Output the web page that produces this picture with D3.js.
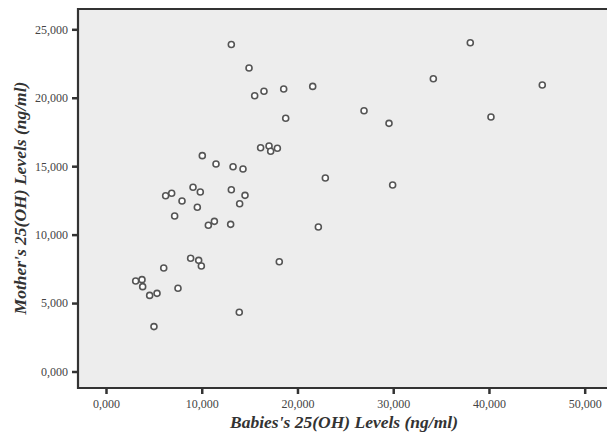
<!DOCTYPE html>
<html>
<head>
<meta charset="utf-8">
<script src="https://cdn.jsdelivr.net/npm/d3@7"></script>
<style>
  body { margin: 0; background: #fff; }
  svg { display: block; }
</style>
</head>
<body>
<svg id="chart"></svg>
<script>
// baby vs mother 25(OH) values
const babies = [13090, 14940, 15530, 16500, 18560, 21590, 18770,
  38050, 34190, 45570, 26950, 29560, 40210, 22910, 29940,
  16150, 17030, 17200, 17900, 10060, 11490, 13270, 14310, 6230, 6860, 9090, 9850, 7940,
  13090, 14520, 13960, 9540, 7170, 10690, 11320, 13020, 22180,
  18100, 6030, 8840, 9680, 9960, 3100, 3760, 3830, 7520, 4560, 5330, 13920, 5010];
const mothers = [23890, 22170, 20150, 20470, 20640, 20830, 18500,
  24020, 21390, 20930, 19050, 18130, 18590, 14140, 13620,
  16350, 16470, 16090, 16310, 15770, 15160, 14960, 14790, 12840, 13020, 13460, 13110, 12460,
  13280, 12870, 12260, 12000, 11360, 10680, 10970, 10750, 10560,
  8020, 7560, 8270, 8120, 7710, 6610, 6710, 6200, 6080, 5560, 5710, 4330, 3280];

const xTicks = [0, 10000, 20000, 30000, 40000, 50000];
const yTicks = [0, 5000, 10000, 15000, 20000, 25000];
const tickLabel = v => d3.format(',')(v / 1000) + ',000';

const W = 607, H = 435;
const frame = { left: 78, top: 9, right: 608, bottom: 388 };

const svg = d3.select('#chart').attr('width', W).attr('height', H);

const x = d3.scaleLinear().domain([0, 50000]).range([106, 584.7]);
const y = d3.scaleLinear().domain([0, 25000]).range([371.5, 29.3]);

// plot background
svg.append('rect')
  .attr('x', frame.left).attr('y', frame.top)
  .attr('width', frame.right - frame.left)
  .attr('height', frame.bottom - frame.top)
  .attr('fill', '#ededed');

// frame lines (no right edge)
svg.append('path')
  .attr('d', `M${frame.right},${frame.top}H${frame.left}V${frame.bottom}H${frame.right}`)
  .attr('fill', 'none')
  .attr('stroke', '#333')
  .attr('stroke-width', 2.2);

// axes
const xAxis = d3.axisBottom(x).tickValues(xTicks).tickSize(6).tickPadding(5)
  .tickFormat(tickLabel);
const yAxis = d3.axisLeft(y).tickValues(yTicks).tickSize(6).tickPadding(4)
  .tickFormat(tickLabel);

const gx = svg.append('g').attr('transform', `translate(0,${frame.bottom})`).call(xAxis);
const gy = svg.append('g').attr('transform', `translate(${frame.left},0)`).call(yAxis);

[gx, gy].forEach(g => {
  g.select('.domain').remove();
  g.selectAll('.tick line').attr('stroke', '#333').attr('stroke-width', 2.5);
  g.selectAll('.tick text')
    .attr('fill', '#444')
    .style('font-family', '"Liberation Serif", serif')
    .style('font-size', '12px');
});

// points
svg.append('g')
  .selectAll('circle')
  .data(babies.map((b, i) => ({ b, m: mothers[i] })))
  .join('circle')
  .attr('cx', d => x(d.b))
  .attr('cy', d => y(d.m))
  .attr('r', 3)
  .attr('fill', '#fff')
  .attr('stroke', '#555')
  .attr('stroke-width', 1.6);

// axis titles
svg.append('text')
  .attr('x', 344).attr('y', 428)
  .attr('text-anchor', 'middle')
  .style('font-family', '"Liberation Serif", serif')
  .style('font-size', '17.5px')
  .style('font-weight', 'bold')
  .style('font-style', 'italic')
  .attr('fill', '#333')
  .text("Babies's 25(OH) Levels (ng/ml)");

svg.append('text')
  .attr('transform', 'translate(26,198) rotate(-90)')
  .attr('text-anchor', 'middle')
  .style('font-family', '"Liberation Serif", serif')
  .style('font-size', '17.5px')
  .style('font-weight', 'bold')
  .style('font-style', 'italic')
  .attr('fill', '#333')
  .text("Mother's 25(OH) Levels (ng/ml)");
</script>
</body>
</html>
